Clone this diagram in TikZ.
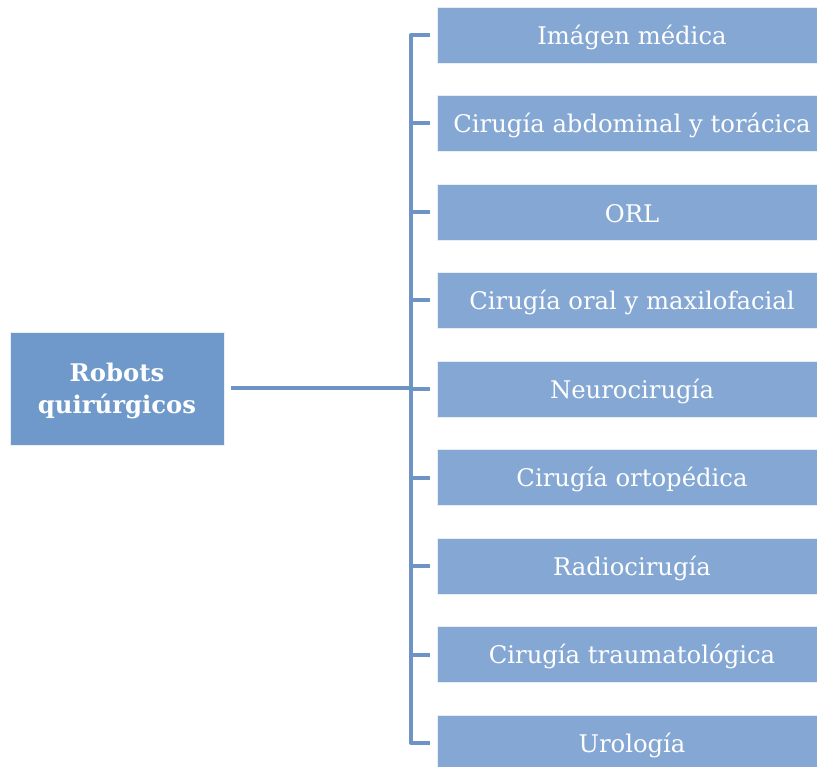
\documentclass[tikz,border=0pt]{standalone}
\usepackage{fontspec}
\setmainfont{DejaVu Serif}
\definecolor{mainbox}{HTML}{6F99CA}
\definecolor{subbox}{HTML}{84A8D3}
\definecolor{linec}{HTML}{6E94C6}
\begin{document}
\begin{tikzpicture}[x=1pt,y=-1pt,
  root/.style={draw=white!85!mainbox,line width=1pt,fill=mainbox,text=white,minimum width=214pt,minimum height=112pt,inner sep=0pt,align=center,font=\fontsize{24.3}{32}\selectfont\bfseries},
  leaf/.style={draw=white!80!subbox,line width=0.8pt,fill=subbox,text=white,minimum width=382pt,minimum height=56pt,inner sep=0pt},
  leaftext/.style={text=white,font=\fontsize{24.3}{28}\selectfont},
  conn/.style={draw=linec,line width=4pt}]
\useasboundingbox (0,0) rectangle (817,767);
\node[root] (root) at (117,389) {};
\node[text=white,align=center,font=\fontsize{24.3}{32}\selectfont\bfseries] (rtext) at (117,391) {Robots\\quirúrgicos};
\foreach \i/\t in {1/Imágen médica,2/Cirugía abdominal y torácica,3/ORL,4/Cirugía oral y maxilofacial,5/Neurocirugía,6/Cirugía ortopédica,7/Radiocirugía,8/Cirugía traumatológica,9/Urología}{
  \node[leaf,anchor=west] (n\i) at (437,{35+88.5*(\i-1)}) {};
  \node[leaftext] (t\i) at (632,{37+88.5*(\i-1)}) {\t};
}
\coordinate (bus) at (411,388);
\coordinate (rs) at ([xshift=6pt,yshift=1pt]root.east);
\draw[conn] (rs) -- (rs -| bus);
\draw[conn,line join=round] ([xshift=-7pt]n1.west) -| (bus) |- ([xshift=-7pt]n9.west);
\foreach \i in {2,...,8}{
  \draw[conn] (bus |- n\i.west) -- ([xshift=-7pt]n\i.west);
}
\end{tikzpicture}
\end{document}
